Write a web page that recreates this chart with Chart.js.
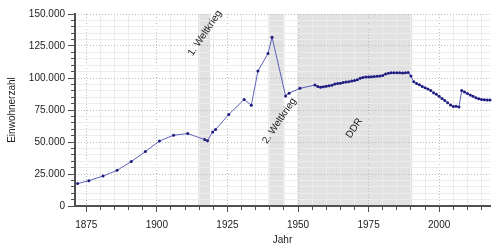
<!DOCTYPE html>
<html>
<head>
<meta charset="utf-8">
<script src="https://cdn.jsdelivr.net/npm/chart.js"></script>
<style>
  body { margin: 0; background: #fff; }
  #wrap { width: 500px; height: 250px; }
</style>
</head>
<body>
<div id="wrap"><canvas id="chart" width="500" height="250"></canvas></div>
<script>
// census dates (fractional years) and population
var years = [1871.92, 1875.92, 1880.92, 1885.92, 1890.92, 1895.92, 1900.92, 1905.92, 1910.92,
  1916.93, 1917.93, 1919.77, 1920.8, 1925.46, 1930.9, 1933.46, 1935.8, 1939.37, 1940.8,
  1945.6, 1946.83, 1950.66,
  1956, 1957, 1958, 1959, 1960, 1961, 1962, 1963, 1964, 1965, 1966, 1967, 1968, 1969,
  1970, 1971, 1972, 1973, 1974, 1975, 1976, 1977, 1978, 1979, 1980, 1981, 1982, 1983,
  1984, 1985, 1986, 1987, 1988, 1989,
  1990, 1991, 1992, 1993, 1994, 1995, 1996, 1997, 1998, 1999, 2000, 2001, 2002, 2003,
  2004, 2005, 2006, 2007, 2008, 2009, 2010, 2011, 2012, 2013, 2014, 2015, 2016, 2017, 2018];
var population = [17500, 19800, 23400, 27900, 34700, 42500, 50800, 55300, 56600,
  51900, 51000, 57900, 59800, 71500, 83200, 78800, 105400, 119200, 131800,
  86000, 88100, 91900,
  94500, 93300, 92700, 93200, 93600, 93900, 94400, 95300, 95700, 95900, 96400, 96900, 97000, 97600,
  98000, 98600, 99900, 100400, 100700, 100700, 100900, 101100, 101400, 101600, 102000, 103100, 103700, 104100,
  104100, 104100, 104100, 104000, 104100, 104300,
  101500, 97000, 95700, 94700, 93400, 92300, 91500, 90200, 88400, 87400, 85800, 84000, 82400, 80600,
  78900, 77700, 78000, 77400, 90300, 89000, 87800, 86700, 85700, 84600, 83800, 83300, 83100, 82900, 82800];

// shaded periods
var bandStart = [1914.6, 1939.5, 1949.8];
var bandEnd = [1918.8, 1945.2, 1990.4];
var bandLabels = ['1. Weltkrieg', '2. Weltkrieg', 'DDR'];
var labelYears = [1917.0, 1943.4, 1969.9];
var labelValues = [135000, 66500, 60700];

var xMin = 1871, xMax = 2018;
var yMin = 0, yMax = 150000;

function fmt(v) {
  return String(v).replace(/\B(?=(\d{3})+(?!\d))/g, '.');
}

var overlay = {
  id: 'overlay',
  beforeDraw: function (chart) {
    var c = chart.ctx, xs = chart.scales.x, ys = chart.scales.y;
    var top = ys.getPixelForValue(yMax), bottom = ys.getPixelForValue(yMin);
    c.save();
    c.fillStyle = '#e2e2e2';
    for (var i = 0; i < bandStart.length; i++) {
      var x0 = xs.getPixelForValue(bandStart[i]);
      var x1 = xs.getPixelForValue(bandEnd[i]);
      c.fillRect(x0, top, x1 - x0, bottom - top);
    }
    c.restore();
  },
  afterDatasetsDraw: function (chart) {
    var c = chart.ctx, xs = chart.scales.x, ys = chart.scales.y;
    c.save();
    c.fillStyle = '#222';
    c.font = '10px "Liberation Sans", Arial, sans-serif';
    c.textAlign = 'center';
    c.textBaseline = 'middle';
    for (var i = 0; i < bandLabels.length; i++) {
      c.save();
      c.translate(xs.getPixelForValue(labelYears[i]), ys.getPixelForValue(labelValues[i]));
      c.rotate(-56 * Math.PI / 180);
      c.fillText(bandLabels[i], 0, 0);
      c.restore();
    }
    c.restore();
  }
};

var font = { family: '"Liberation Sans", Arial, sans-serif', size: 10 };

new Chart(document.getElementById('chart'), {
  type: 'line',
  data: {
    datasets: [{
      data: years.map(function (y, i) { return { x: y, y: population[i] }; }),
      borderColor: 'rgba(70,70,180,0.85)',
      borderWidth: 1,
      pointRadius: 1.5,
      pointBorderWidth: 0,
      pointBackgroundColor: '#1c1c80',
      tension: 0,
      clip: 4
    }]
  },
  options: {
    responsive: false,
    animation: false,
    events: [],
    layout: { padding: { top: 14, right: 10, left: 0, bottom: 0 } },
    plugins: { legend: { display: false }, tooltip: { enabled: false } },
    scales: {
      x: {
        type: 'linear', position: 'bottom', min: xMin, max: xMax,
        afterFit: function (s) { s.height = 44; },
        ticks: {
          stepSize: 5, includeBounds: false, autoSkip: false, maxRotation: 0,
          maxTicksLimit: 1000, padding: 7, color: '#222', font: font,
          callback: function (v) { return v % 25 === 0 ? String(v) : ''; }
        },
        grid: {
          color: function (ctx) { return ctx.tick && ctx.tick.value % 25 === 0 ? 'rgba(0,0,0,0)' : '#ececec'; },
          tickColor: '#505050', tickLength: 6,
          tickBorderDash: function (ctx) { return ctx.tick && ctx.tick.value % 25 === 0 ? [] : [3, 20]; }
        },
        border: { color: '#505050', width: 2 },
        title: { display: true, text: 'Jahr', color: '#222', font: font, padding: { top: 0, bottom: 4 } }
      },
      x2: {
        type: 'linear', position: 'bottom', min: xMin, max: xMax,
        afterFit: function (s) { s.height = 0; },
        ticks: { display: false, stepSize: 25, includeBounds: false, maxTicksLimit: 1000 },
        grid: { color: '#bdbdbd', drawTicks: false },
        border: { display: false, dash: [1, 2] }
      },
      y: {
        type: 'linear', position: 'left', min: yMin, max: yMax,
        afterFit: function (s) { s.width = 75; },
        ticks: {
          stepSize: 5000, maxTicksLimit: 1000, autoSkip: false, padding: 3, color: '#222', font: font,
          callback: function (v) { return v % 25000 === 0 ? fmt(v) : ''; }
        },
        grid: {
          color: function (ctx) { return ctx.tick && ctx.tick.value % 25000 === 0 ? 'rgba(0,0,0,0)' : '#ececec'; },
          tickColor: '#505050', tickLength: 7,
          tickBorderDash: function (ctx) { return ctx.tick && ctx.tick.value % 25000 === 0 ? [] : [0, 3, 4, 20]; }
        },
        border: { color: '#505050', width: 2 },
        title: { display: true, text: 'Einwohnerzahl', color: '#222', font: font, padding: { top: 6, bottom: 0 } }
      },
      y2: {
        type: 'linear', position: 'left', min: yMin, max: yMax,
        afterFit: function (s) { s.width = 0; },
        ticks: { display: false, stepSize: 25000, maxTicksLimit: 1000 },
        grid: { color: '#bdbdbd', drawTicks: false },
        border: { display: false, dash: [1, 2] }
      }
    }
  },
  plugins: [overlay]
});
</script>
</body>
</html>
